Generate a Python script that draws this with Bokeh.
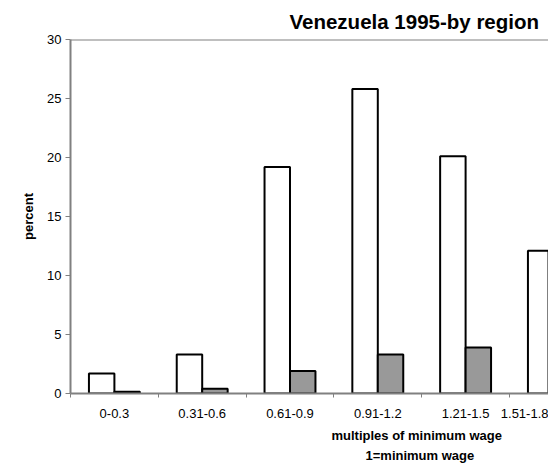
from bokeh.plotting import figure
from bokeh.models import Range1d, FixedTicker, Span, Title
from bokeh.embed import file_html
from bokeh.resources import INLINE

# ---- data ----
categories = ["0-0.3", "0.31-0.6", "0.61-0.9", "0.91-1.2", "1.21-1.5", "1.51-1.8"]
series_white = [1.7, 3.3, 19.2, 25.8, 20.1, 12.1]
series_gray = [0.15, 0.4, 1.9, 3.3, 3.9]
y_ticks = [0, 5, 10, 15, 20, 25, 30]

FONT = "Liberation Sans"
AXIS_GRAY = "#808080"

W, H = 548, 468
BL, BT, BB = 70, 39, 75
frame_w = W - BL
cat_px = 87.8
x_end = frame_w / cat_px

p = figure(width=W, height=H, x_range=Range1d(0, x_end), y_range=Range1d(0, 30),
           output_backend="svg", toolbar_location=None,
           min_border_left=BL, min_border_right=0, min_border_top=BT, min_border_bottom=BB)
p.outline_line_color = None
p.xgrid.visible = False
p.ygrid.visible = False
p.background_fill_color = "white"
p.border_fill_color = "white"

bw = 0.29
off = 0.145
xw = [i + 0.5 - off for i in range(len(series_white))]
xg = [i + 0.5 + off for i in range(len(series_gray))]
p.vbar(x=xw, top=series_white, width=bw, bottom=0, fill_color="white",
       line_color="black", line_width=2)
p.vbar(x=xg, top=series_gray, width=bw, bottom=0, fill_color="#999999",
       line_color="black", line_width=2)

# top border line of plot area
p.add_layout(Span(location=30, dimension="width", line_color=AXIS_GRAY, line_width=2))

# x axis: labels at category centres; the last category is cut by the right edge,
# so its label is anchored at the visible edge of the range
centers = [i + 0.5 for i in range(len(categories))]
label_pos = [c for c in centers if c < x_end] + [x_end - 1e-6]
bounds = list(range(len(categories) + 1))
xa = p.xaxis[0]
xa.ticker = FixedTicker(ticks=label_pos, minor_ticks=bounds)
xa.major_label_overrides = {c: lab for c, lab in zip(label_pos, categories)}
xa.major_tick_line_color = None
xa.major_tick_in = 0
xa.major_tick_out = 0
xa.minor_tick_in = 0
xa.minor_tick_out = 4
xa.minor_tick_line_color = AXIS_GRAY
xa.minor_tick_line_width = 1
xa.axis_line_color = AXIS_GRAY
xa.axis_line_width = 2
xa.major_label_standoff = 11
xa.major_label_text_font = FONT
xa.major_label_text_font_size = "13px"
xa.major_label_text_color = "black"

# y axis
ya = p.yaxis[0]
ya.ticker = FixedTicker(ticks=y_ticks)
ya.major_tick_in = 0
ya.major_tick_out = 5
ya.major_tick_line_color = AXIS_GRAY
ya.major_tick_line_width = 1
ya.minor_tick_line_color = None
ya.axis_line_color = AXIS_GRAY
ya.axis_line_width = 2
ya.major_label_standoff = 4
ya.major_label_text_font = FONT
ya.major_label_text_font_size = "13px"
ya.major_label_text_color = "black"
ya.axis_label = "percent"
ya.axis_label_standoff = 8
ya.axis_label_text_font = FONT
ya.axis_label_text_font_size = "13px"
ya.axis_label_text_font_style = "bold"
ya.axis_label_text_color = "black"

# title
p.title.text = "Venezuela 1995-by region"
p.title.align = "left"
p.title.offset = 219
p.title.standoff = 13
p.title.text_font = FONT
p.title.text_font_size = "20.5px"
p.title.text_font_style = "bold"
p.title.text_color = "black"

# x axis title lines
for txt, off_px, so, va in [("multiples of minimum wage", 261, 10, "bottom"),
                            ("1=minimum wage", 295, 0, "top")]:
    t = Title(text=txt, align="left", offset=off_px, standoff=so, vertical_align=va,
              text_font=FONT, text_font_size="13px", text_font_style="bold",
              text_color="black")
    p.add_layout(t, "below")

open("out.html", "w").write(file_html(p, INLINE))
